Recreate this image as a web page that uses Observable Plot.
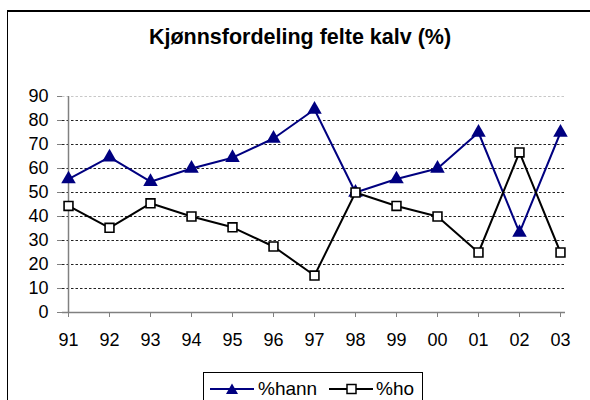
<!DOCTYPE html>
<html>
<head>
<meta charset="utf-8">
<script src="https://cdn.jsdelivr.net/npm/d3@7"></script>
<script src="https://cdn.jsdelivr.net/npm/@observablehq/plot@0.6"></script>
<style>
  html, body { margin: 0; padding: 0; background: #fff; }
  #wrap { position: relative; width: 590px; height: 400px; overflow: hidden; font-family: "Liberation Sans", Arial, sans-serif; }
  #frame { position: absolute; left: 7px; top: 10px; width: 640px; height: 450px; border: 1px solid #000; border-top-width: 2px; box-sizing: border-box; pointer-events: none; }
  #title { position: absolute; left: 0; top: 25px; width: 600px; text-align: center; font-weight: bold; font-size: 21.5px; line-height: 24px; color: #000; }
  #chart { position: absolute; left: 0; top: 0; }
  #legend { position: absolute; left: 203px; top: 372px; width: 220px; height: 40px; border: 1px solid #000; box-sizing: border-box; background: #fff; }
  .lg-item { position: absolute; top: 0; height: 32px; display: flex; align-items: center; font-size: 19px; color: #000; }
</style>
</head>
<body>
<div id="wrap">
  <div id="chart"></div>
  <div id="title">Kjønnsfordeling felte kalv (%)</div>
  <div id="legend">
    <div class="lg-item" style="left:6px">
      <svg width="44" height="14"><line x1="0" y1="7" x2="44" y2="7" stroke="#000080" stroke-width="2"/><path d="M22,1.5 L28,12 L16,12 Z" fill="#000080"/></svg>
      <span style="margin-left:4px">%hann</span>
    </div>
    <div class="lg-item" style="left:125px">
      <svg width="44" height="14"><line x1="0" y1="7" x2="44" y2="7" stroke="#000" stroke-width="2"/><rect x="18" y="2.5" width="9" height="9" fill="#fff" stroke="#000" stroke-width="1.5"/></svg>
      <span style="margin-left:3px">%ho</span>
    </div>
  </div>
  <div id="frame"></div>
</div>
<script>
const years = ["91","92","93","94","95","96","97","98","99","00","01","02","03"];
const hann = [55.6, 64.7, 54.5, 60.0, 64.5, 72.5, 84.6, 50.0, 55.6, 60.0, 75.0, 33.3, 75.0];
const ho   = [44.4, 35.3, 45.5, 40.0, 35.5, 27.5, 15.4, 50.0, 44.4, 40.0, 25.0, 66.7, 25.0];
const yTicks = [0, 10, 20, 30, 40, 50, 60, 70, 80, 90];

const hannData = years.map((y, i) => ({year: y, value: hann[i]}));
const hoData = years.map((y, i) => ({year: y, value: ho[i]}));

const chart = Plot.plot({
  width: 590,
  height: 400,
  marginLeft: 62,
  marginRight: 25,
  marginTop: 96,
  marginBottom: 88,
  style: {fontFamily: "Liberation Sans, Arial, sans-serif", fontSize: "18px", background: "transparent", color: "#000"},
  x: {type: "point", domain: years, padding: 0, label: null},
  y: {domain: [0, 90], label: null},
  marks: [
    Plot.ruleY(yTicks.filter(d => d > 0 && d < 90), {stroke: "#222", strokeDasharray: "2.5,2", strokeWidth: 1.2}),
    Plot.ruleY([90], {stroke: "#c8c8c8", strokeDasharray: "2.5,2", strokeWidth: 1}),
    Plot.axisY({ticks: yTicks, tickSize: 5, tickPadding: 9, stroke: "#808080", fill: "#000", fontSize: 18, label: null}),
    Plot.axisX({tickSize: 5, tickPadding: 16, stroke: "#808080", fill: "#000", fontSize: 18, label: null}),
    Plot.ruleX([years[0]], {stroke: "#808080", strokeWidth: 1.5}),
    Plot.ruleY([0], {stroke: "#808080", strokeWidth: 1.5}),
    Plot.line(hannData, {x: "year", y: "value", stroke: "#000080", strokeWidth: 2}),
    Plot.dot(hannData, {x: "year", y: "value", symbol: "triangle", fill: "#000080", stroke: "none", r: 5.4}),
    Plot.line(hoData, {x: "year", y: "value", stroke: "#000", strokeWidth: 2}),
    Plot.dot(hoData, {x: "year", y: "value", symbol: "square", fill: "#fff", stroke: "#000", strokeWidth: 1.6, r: 5})
  ]
});
document.getElementById("chart").appendChild(chart);
</script>
</body>
</html>
